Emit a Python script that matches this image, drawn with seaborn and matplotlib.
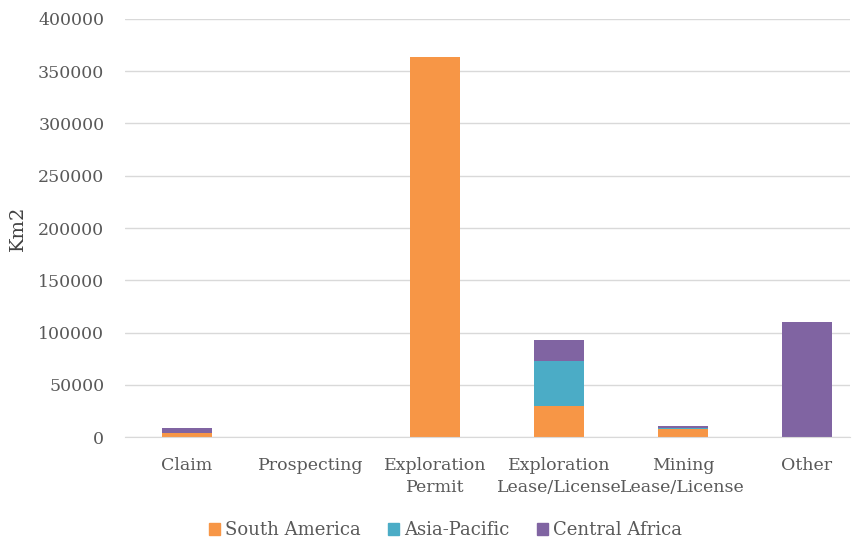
import numpy as np
import pandas as pd
import matplotlib
matplotlib.use('Agg')
import matplotlib.pyplot as plt
import seaborn as sns
from matplotlib.patches import Patch

# licence types and area (km2) per region
categories = ["Claim", "Prospecting", "Exploration\nPermit", "Exploration\nLease/License",
              "Mining\nLease/License", "Other"]
south_america = [4000, 0, 363500, 30000, 7500, 0]
asia_pacific = [0, 0, 0, 43000, 800, 0]
central_africa = [4800, 0, 0, 20000, 2500, 110500]

colors = {"South America": "#F79646", "Asia-Pacific": "#4BACC6", "Central Africa": "#8064A2"}

sns.set_style("white")
plt.rcParams['font.family'] = ['DejaVu Serif']
txt = "#595959"

df = pd.DataFrame({"type": categories,
                   "South America": south_america,
                   "Asia-Pacific": asia_pacific,
                   "Central Africa": central_africa})
# cumulative heights for stacking
df["c1"] = df["South America"]
df["c2"] = df["c1"] + df["Asia-Pacific"]
df["c3"] = df["c2"] + df["Central Africa"]

fig = plt.figure(figsize=(8.57, 5.41), dpi=100)
ax = fig.add_axes([0.146, 0.192, 0.846, 0.773])

for col, name in [("c3", "Central Africa"), ("c2", "Asia-Pacific"), ("c1", "South America")]:
    sns.barplot(data=df, x="type", y=col, order=categories, color=colors[name],
                width=0.4, saturation=1, ax=ax, errorbar=None, linewidth=0, edgecolor="none")

ax.set_xlim(-0.5, 5.35)
ax.set_ylim(0, 400000)
ax.set_yticks(np.arange(0, 400001, 50000))
ax.yaxis.grid(True, color="#D9D9D9", linewidth=1)
ax.set_axisbelow(True)
for s in ["top", "right", "left"]:
    ax.spines[s].set_visible(False)
ax.spines["bottom"].set_color("#D9D9D9")
ax.tick_params(axis="both", colors=txt, labelsize=12.5, length=0)
ax.tick_params(axis="y", pad=15)
ax.tick_params(axis="x", pad=14)
for lab in ax.get_xticklabels():
    lab.set_linespacing(1.45)
ax.set_xlabel("")
ax.set_ylabel("Km2", fontsize=14, color="#404040", labelpad=8)

handles = [Patch(color=colors[n], label=n) for n in ["South America", "Asia-Pacific", "Central Africa"]]
fig.legend(handles=handles, loc="lower center", bbox_to_anchor=(0.52, -0.027), ncol=3, frameon=False,
           fontsize=13, handlelength=0.6, handleheight=0.6, handletextpad=0.3, columnspacing=1.5,
           labelcolor=txt)

fig.savefig("out.png", dpi=100)
